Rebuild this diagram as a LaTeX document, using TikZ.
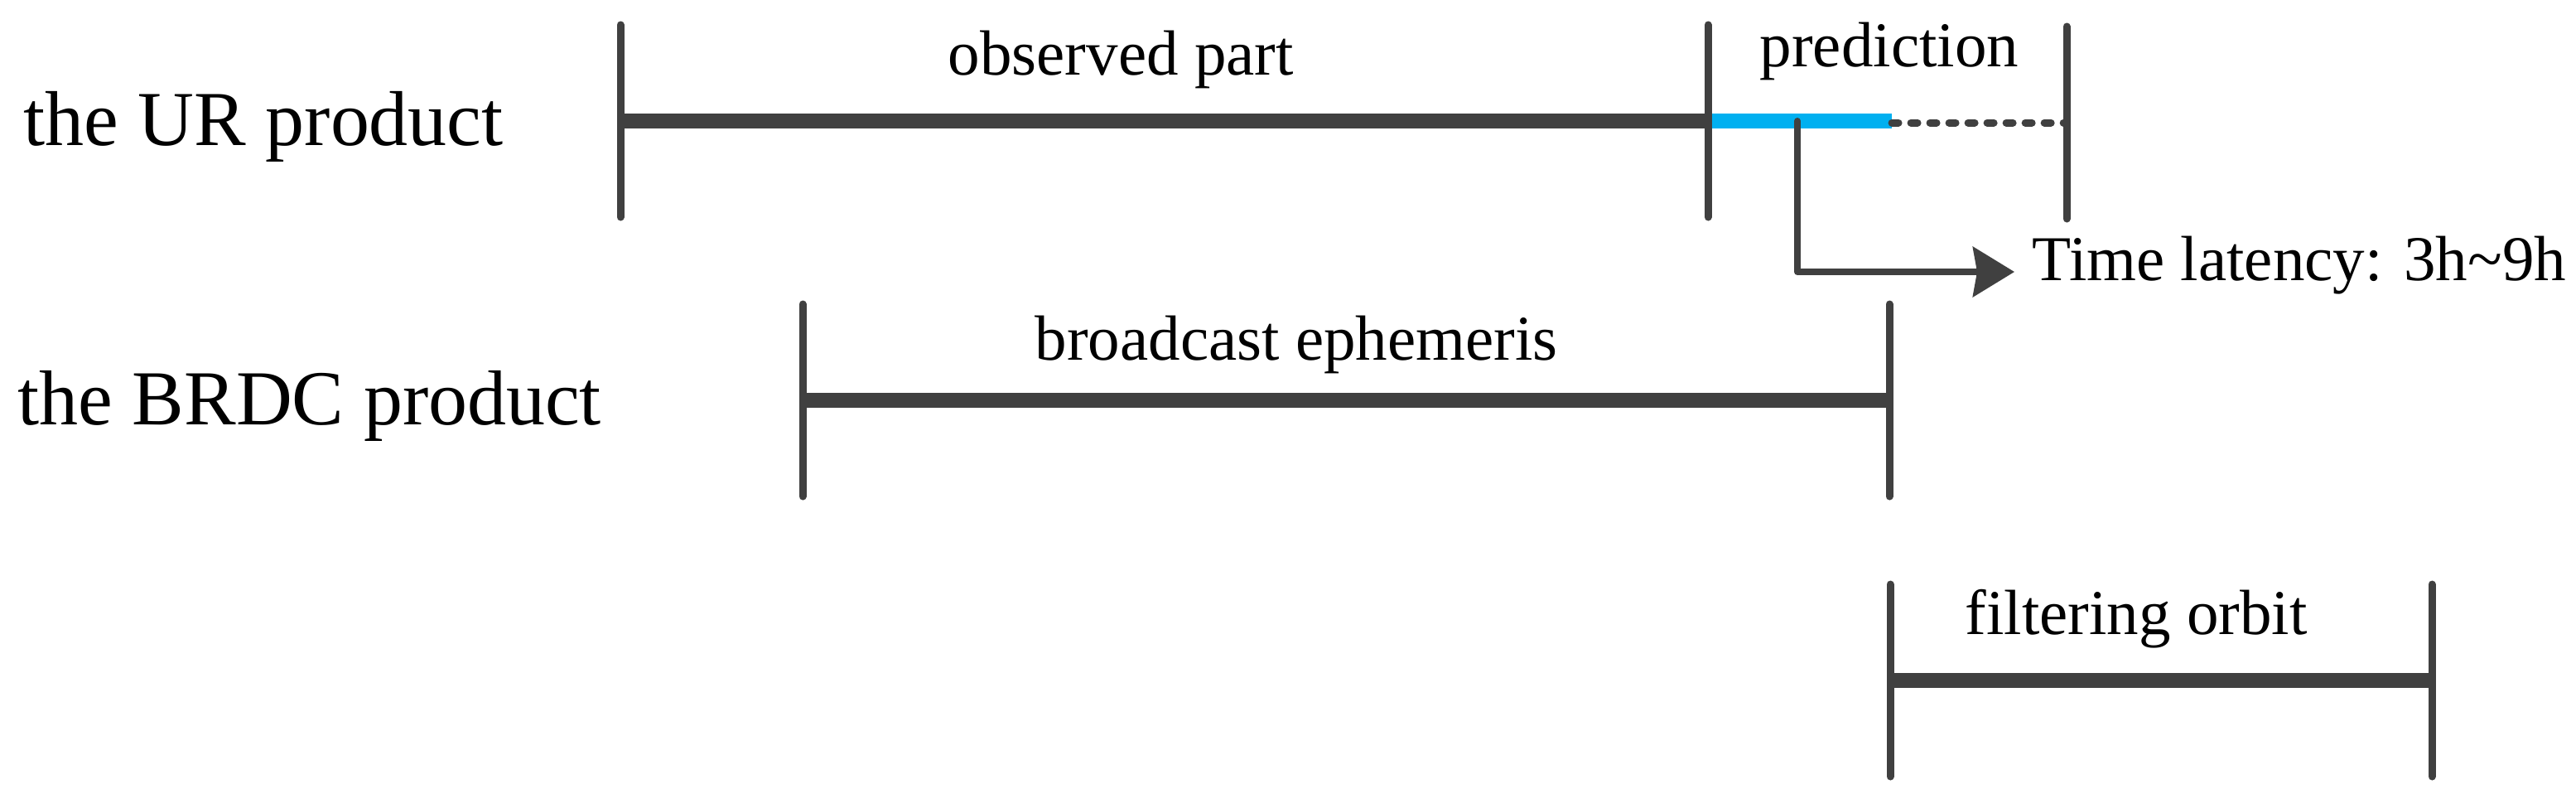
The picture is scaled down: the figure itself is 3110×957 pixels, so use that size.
\documentclass[tikz,border=0pt]{standalone}
\usepackage{fontspec}
\setmainfont{Liberation Serif}
\usetikzlibrary{arrows.meta}
\definecolor{darkline}{HTML}{404040}
\definecolor{predblue}{HTML}{00B0F0}
\begin{document}
\begin{tikzpicture}[x=0.01cm, y=-0.01cm,
        tickline/.style={darkline, line width=0.09cm, line cap=round},
        barline/.style={darkline, line width=0.18cm},
        conn/.style={darkline, line width=0.08cm, line cap=round, line join=round, -{Stealth[length=0.5cm, width=0.6cm, inset=0.05cm]}},
        rowname/.style={anchor=base west, inner sep=0pt, font=\fontsize{26.7}{32}\selectfont},
        lbl/.style={anchor=base west, inner sep=0pt, font=\fontsize{21.9}{26}\selectfont}]
        \useasboundingbox (0,0) rectangle (3110,957);

        % row names
        \node[rowname] (ur) at (28,175) {the UR product};
        \node[rowname] (brdc) at (21,512) {the BRDC product};

        % time marks
        \coordinate (ur_1) at (749,146);
        \coordinate (ur_2) at (2062,146);
        \coordinate (ur_3) at (2284,148);
        \coordinate (ur_4) at (2495,148);
        \coordinate (br_1) at (969,483);
        \coordinate (br_2) at (2281,483);
        \coordinate (fo_1) at (2282,821);
        \coordinate (fo_2) at (2936,821);

        \draw[barline] (ur_1) -- (ur_2);
        \draw[barline, predblue] (ur_2) -- (ur_2 -| ur_3);
        \draw[darkline, line width=0.09cm, line cap=round, dash pattern=on 0.08cm off 0.15cm] (ur_3) -- (ur_4);
        \draw[barline] (br_1) -- (br_2);
        \draw[barline] (fo_1) -- (fo_2);

        \foreach \p in {ur_1,ur_2,ur_4,br_1,br_2,fo_1,fo_2}
            \draw[tickline] (\p) ++(0,-116) -- ++(0,232);

        % segment labels
        \node[lbl] (obs) at (1144,90) {observed part};
        \node[lbl] (pred) at (2124,80) {prediction};
        \node[lbl] (eph) at (1249,434) {broadcast ephemeris};
        \node[lbl] (filt) at (2372,765) {filtering orbit};
        \node[lbl] (lat) at (2453,338) {Time latency: 3h\textasciitilde 9h};

        \coordinate (src) at (2170,146);
        \coordinate (tip) at (2432,328);
        \draw[conn] (src) |- (tip);

    \end{tikzpicture}
\end{document}
